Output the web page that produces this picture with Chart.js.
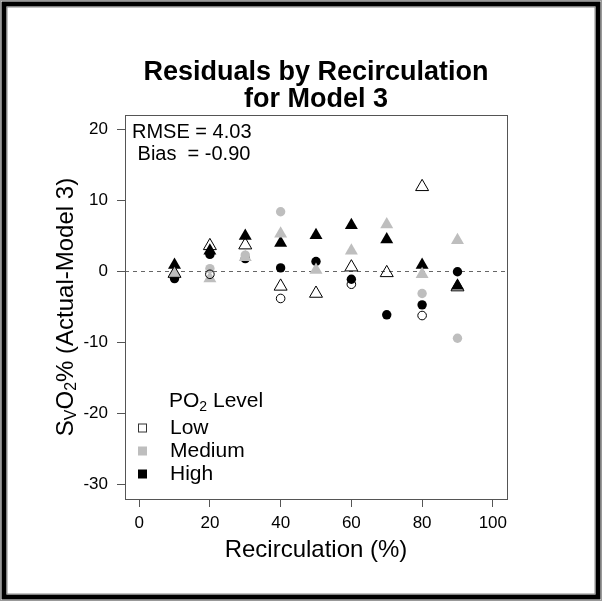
<!DOCTYPE html>
<html>
<head>
<meta charset="utf-8">
<script src="https://cdn.jsdelivr.net/npm/chart.js@4/dist/chart.umd.min.js"></script>
<style>
  html, body { margin: 0; padding: 0; background: #fff; }
  canvas { display: block; }
</style>
</head>
<body>
<canvas id="c" width="602" height="601"></canvas>
<script>
// ---- data ----
const recirc = [10, 20, 30, 40, 50, 60, 70, 80, 90];

// circles
const lowCircle    = [null, -0.4, null, -3.8, null, -1.8, null, -6.2, null];
const mediumCircle = [null,  0.4,  2.3,  8.4, null, null, null, -3.1, -9.4];
const highCircle   = [-1.0,  2.4,  1.8,  0.5,  1.4, -1.1, -6.1, -4.7, -0.05];

// triangles
const lowTriangle    = [-0.3, 3.6, 3.7, -2.1, -3.1, 0.6, -0.2, 11.9, -2.2];
const mediumTriangle = [-0.3, -1.0, 2.0, 5.3, 0.2, 2.9, 6.6, -0.4, 4.4];
const highTriangle   = [0.9, 2.9, 5.0, 4.0, 5.1, 6.5, 4.5, 0.9, -2.0];

const xTicks = [0, 20, 40, 60, 80, 100];
const yTicks = [-30, -20, -10, 0, 10, 20];

const levelLabels = ['Low', 'Medium', 'High'];
const titleLines = ['Residuals by Recirculation', 'for Model 3'];
const statLines = ['RMSE = 4.03', ' Bias  = -0.90'];
const xTitle = 'Recirculation (%)';

const GRAY = '#bebebe';
const FONT = '"Liberation Sans", Arial, Helvetica, sans-serif';

function pts(vals) {
  const out = [];
  vals.forEach((v, i) => { if (v !== null) out.push({ x: recirc[i], y: v }); });
  return out;
}

const datasets = [
  { label: 'Low', data: pts(lowCircle), pointStyle: 'circle', pointRadius: 4.3, backgroundColor: 'rgba(0,0,0,0)', borderColor: '#000', borderWidth: 1 },
  { label: 'Low', data: pts(lowTriangle), pointStyle: 'triangle', pointRadius: 7.5, backgroundColor: 'rgba(0,0,0,0)', borderColor: '#000', borderWidth: 1 },
  { label: 'Medium', data: pts(mediumCircle), pointStyle: 'circle', pointRadius: 4.7, backgroundColor: GRAY, borderColor: GRAY, borderWidth: 0 },
  { label: 'Medium', data: pts(mediumTriangle), pointStyle: 'triangle', pointRadius: 7.5, backgroundColor: GRAY, borderColor: GRAY, borderWidth: 0 },
  { label: 'High', data: pts(highCircle), pointStyle: 'circle', pointRadius: 4.7, backgroundColor: '#000', borderColor: '#000', borderWidth: 0 },
  { label: 'High', data: pts(highTriangle), pointStyle: 'triangle', pointRadius: 7.5, backgroundColor: '#000', borderColor: '#000', borderWidth: 0 }
];
datasets.forEach(d => { d.pointHoverRadius = d.pointRadius; });

const decor = {
  id: 'decor',
  beforeDraw(chart) {
    const ctx = chart.ctx;
    const W = chart.width, H = chart.height;
    ctx.save();
    ctx.fillStyle = '#fff';
    ctx.fillRect(0, 0, W, H);
    // outer frame
    ctx.strokeStyle = '#999';
    ctx.lineWidth = 1;
    ctx.strokeRect(0.5, 0.5, W - 1, H - 1);
    ctx.strokeStyle = '#000';
    ctx.lineWidth = 5;
    ctx.strokeRect(4, 4, W - 8, H - 8);
    ctx.strokeStyle = '#888';
    ctx.lineWidth = 1;
    ctx.strokeRect(7, 7, W - 14, H - 14);
    ctx.restore();
  },
  beforeDatasetsDraw(chart) {
    const ctx = chart.ctx;
    const a = chart.chartArea;
    const y0 = Math.round(chart.scales.y.getPixelForValue(0)) + 0.5;
    ctx.save();
    ctx.strokeStyle = '#666';
    ctx.lineWidth = 1;
    ctx.setLineDash([4, 4]);
    ctx.beginPath();
    ctx.moveTo(a.left, y0);
    ctx.lineTo(a.right, y0);
    ctx.stroke();
    ctx.restore();
  },
  afterDraw(chart) {
    const ctx = chart.ctx;
    const a = chart.chartArea;
    const cx = (a.left + a.right) / 2;
    const cy = (a.top + a.bottom) / 2;
    ctx.save();
    // plot box
    ctx.strokeStyle = '#555';
    ctx.lineWidth = 1;
    ctx.strokeRect(Math.round(a.left) + 0.5, Math.round(a.top) + 0.5, Math.round(a.right - a.left), Math.round(a.bottom - a.top));

    ctx.fillStyle = '#000';
    ctx.textBaseline = 'middle';
    // title
    ctx.textAlign = 'center';
    ctx.font = 'bold 27px ' + FONT;
    ctx.fillText(titleLines[0], cx, 73);
    ctx.fillText(titleLines[1], cx, 100);

    // x title
    ctx.font = '24px ' + FONT;
    ctx.fillText(xTitle, cx, 550);

    // stats
    ctx.textAlign = 'left';
    ctx.font = '20px ' + FONT;
    ctx.fillText(statLines[0], 132, 132);
    ctx.fillText(statLines[1], 132, 154);

    // legend
    ctx.font = '21px ' + FONT;
    let x = 169;
    ctx.fillText('PO', x, 401);
    x += ctx.measureText('PO').width;
    ctx.font = '14px ' + FONT;
    ctx.fillText('2', x, 407);
    x += ctx.measureText('2').width;
    ctx.font = '21px ' + FONT;
    ctx.fillText(' Level', x, 401);
    const legFill = ['#fff', GRAY, '#000'];
    const legStroke = ['#000', GRAY, '#000'];
    const legY = [428, 451, 474];
    levelLabels.forEach((lab, i) => {
      ctx.fillStyle = legFill[i];
      ctx.fillRect(138, legY[i] - 4.5, 9, 9);
      if (i === 0) {
        ctx.strokeStyle = '#333';
        ctx.lineWidth = 1;
        ctx.strokeRect(138.5, legY[i] - 4, 8, 8);
      }
      ctx.fillStyle = '#000';
      ctx.fillText(lab, 170, legY[i]);
    });

    // y title (rotated, with subscripts)
    ctx.save();
    ctx.translate(66, cy);
    ctx.rotate(-Math.PI / 2);
    const big = '24px ' + FONT, small = '16px ' + FONT;
    const parts = [['S', big, 0], ['V', small, 6], ['O', big, 0], ['2', small, 6], ['% (Actual-Model 3)', big, 0]];
    let total = 0;
    parts.forEach(p => { ctx.font = p[1]; total += ctx.measureText(p[0]).width; });
    let px = -total / 2;
    ctx.textAlign = 'left';
    parts.forEach(p => {
      ctx.font = p[1];
      ctx.fillText(p[0], px, p[2]);
      px += ctx.measureText(p[0]).width;
    });
    ctx.restore();

    ctx.restore();
  }
};

new Chart(document.getElementById('c'), {
  type: 'scatter',
  data: { datasets },
  options: {
    responsive: false,
    animation: false,
    devicePixelRatio: 1,
    layout: { padding: { top: 115, right: 95, left: 0, bottom: 0 } },
    plugins: { legend: { display: false }, title: { display: false }, tooltip: { enabled: false } },
    scales: {
      x: {
        type: 'linear',
        min: -4, max: 104,
        afterFit: s => { s.height = 102; },
        afterBuildTicks: s => { s.ticks = xTicks.map(v => ({ value: v })); },
        grid: { display: true, drawOnChartArea: false, drawTicks: true, tickLength: 8, color: '#555', tickColor: '#555' },
        border: { display: false },
        ticks: { color: '#000', font: { family: FONT, size: 17 }, padding: 6, maxRotation: 0 }
      },
      y: {
        type: 'linear',
        min: -32, max: 22,
        afterFit: s => { s.width = 125; },
        afterBuildTicks: s => { s.ticks = yTicks.map(v => ({ value: v })); },
        grid: { display: true, drawOnChartArea: false, drawTicks: true, tickLength: 8, color: '#555', tickColor: '#555' },
        border: { display: false },
        ticks: { color: '#000', font: { family: FONT, size: 17 }, padding: 9 }
      }
    }
  },
  plugins: [decor]
});
</script>
</body>
</html>
